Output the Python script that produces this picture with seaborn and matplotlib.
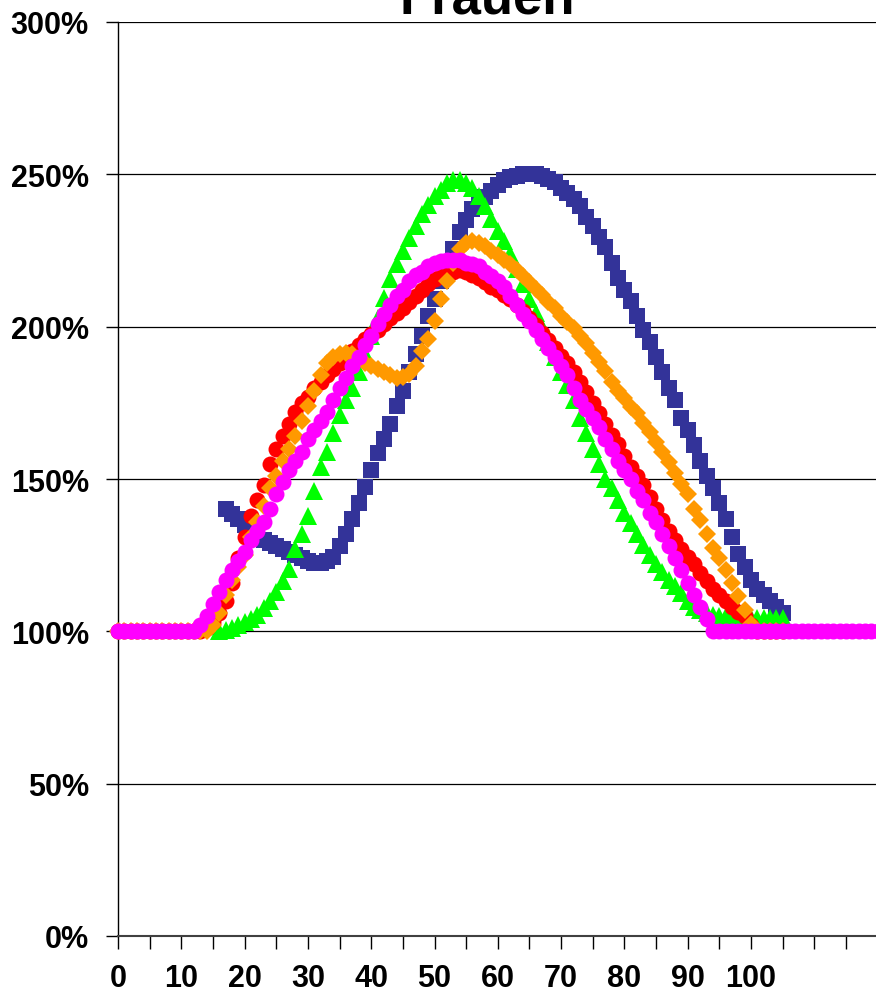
import matplotlib
matplotlib.use("Agg")
import matplotlib.pyplot as plt
import numpy as np
import pandas as pd
import seaborn as sns

# ---------------- data (percent values) ----------------
title = "Frauen"

ages_navy = list(range(17, 106))
navy = [140, 138.5, 137, 135, 133, 131.5, 130, 129, 128, 127, 126, 125, 124, 123,
        122.5, 122.5, 123, 124.5, 128, 132, 137, 142, 147.5, 153, 158.5, 163, 168,
        174, 179, 185, 191, 197, 203.5, 209, 215, 220, 225.5, 231, 235, 238.5, 240.5,
        242.5, 244.5, 246.5, 248, 249, 249.5, 250, 250, 250, 249.5, 248.5, 247.5,
        245.5, 244, 242, 239.5, 236, 233, 229.5, 226, 221, 216, 212, 208.5, 203.5,
        199, 195, 190, 185, 180, 176, 170, 166, 161, 156, 151, 147, 142, 137, 131,
        125.5, 121, 117, 114, 112, 110, 108, 106]

ages_green = list(range(16, 106))
green = [100, 100.5, 101, 102, 103, 104, 105.5, 107.5, 110, 113, 116.5, 120.5, 127,
         132, 138, 146, 154, 159, 165, 171, 176, 180, 185, 191, 197, 203, 209.5,
         215.5, 220.5, 225, 229, 233, 237, 240, 243, 245, 247, 248, 248, 247, 245.5,
         243, 239.5, 235.5, 231.5, 228, 224, 219, 214, 209, 204.5, 200, 195, 190,
         185, 181, 176, 170, 165, 160, 155, 150, 147, 143, 139, 135.5, 132, 128.5,
         125, 122, 119.5, 117, 115, 112.5, 110, 108, 107, 106, 105.5, 105, 105, 105,
         105, 105, 104.5, 104.5, 104.5, 104.5, 104.5, 104.5]

ages_red = list(range(0, 106))
red = [100] * 14 + [101, 103, 106, 110, 116, 124, 131, 138, 143, 148, 155, 160, 164,
       168, 172, 175, 177, 180, 182, 184, 186, 188, 190, 192, 194, 196, 197.5, 199,
       201, 203, 204.5, 206, 208, 210, 212, 214, 215.5, 216.5, 217, 218, 218.5, 218,
       217, 216, 214.5, 213, 212, 210.5, 209, 207, 205, 203, 200.5, 198, 195.5, 193,
       190.5, 188, 185, 182, 178.5, 175, 171.5, 168, 164.5, 161.5, 157.5, 154, 151,
       148, 144, 140, 136.5, 133, 130, 127, 124.5, 122, 119, 116.5, 114, 112, 110,
       108, 106.5, 105, 102] + [100] * 5

ages_orange = list(range(0, 106))
orange = [100] * 15 + [102, 106, 112, 117, 121, 125, 131, 136, 141, 147, 151, 156,
          160, 164, 169, 174, 179, 184, 188, 190, 191, 191.5, 191, 189.5, 188, 187,
          186, 185, 184, 183, 183.5, 184.5, 187, 192, 196, 202, 209, 215, 221, 225.5,
          227.5, 228, 227.5, 226.5, 225, 223.5, 222, 220.5, 218.5, 216.5, 214.5,
          212.5, 210.5, 208, 206, 203.5, 201.5, 199.5, 197, 194.5, 191.5, 188.5,
          185.5, 182, 179, 176.5, 173.5, 171.5, 168.5, 165.5, 162, 159, 155.5, 152,
          148.5, 145, 140, 136.5, 132, 127.5, 124, 120, 116, 111.5, 107, 102.5] + [100] * 5

ages_magenta = list(range(0, 121))
magenta = [100] * 13 + [102, 105, 109, 113, 117, 120, 123, 126, 130, 133, 136, 140,
           145, 149, 153, 156, 159, 163, 166, 169, 172, 176, 180, 183, 187, 190, 194,
           197, 201, 204, 207, 210, 212, 215, 217, 218, 220, 221, 221.5, 222, 222, 222,
           221, 220.5, 220, 218, 216.5, 215, 213, 210, 207, 204, 202, 199, 196, 193,
           190, 187, 184, 180, 176, 173, 170, 167, 163, 160, 156, 153, 150, 146, 143,
           139, 136, 132, 128, 124, 120, 116, 112, 108, 104] + [100] * 27

y_ticks = [0, 50, 100, 150, 200, 250, 300]
x_label_ticks = [0, 10, 20, 30, 40, 50, 60, 70, 80, 90, 100]

series = [
    ("navy", ages_navy, navy, "#333399", "s", 12.0),
    ("green", ages_green, green, "#00FF00", "^", 12.5),
    ("red", ages_red, red, "#FF0000", "o", 11.5),
    ("orange", ages_orange, orange, "#FF9900", "D", 9.0),
    ("magenta", ages_magenta, magenta, "#FF00FF", "o", 11.5),
]

# ---------------- figure ----------------
sns.set_style("white")
plt.rcParams["font.family"] = ["Liberation Sans", "DejaVu Sans"]
plt.rcParams["font.weight"] = "bold"
plt.rcParams["text.color"] = "black"
plt.rcParams["xtick.color"] = "black"
plt.rcParams["ytick.color"] = "black"

W, H = 876, 995
fig = plt.figure(figsize=(W / 100, H / 100), dpi=100)
ax = fig.add_axes([118 / W, (H - 937) / H, 1 - 118 / W, (937 - 23) / H])

for name, xs, ys, col, mk, ms in series:
    df = pd.DataFrame({"age": xs, "value": ys})
    sns.lineplot(data=df, x="age", y="value", ax=ax, color=col, linestyle="",
                 marker=mk, markersize=ms, markeredgewidth=0, markerfacecolor=col,
                 clip_on=False, zorder=3, legend=False, estimator=None, sort=False)

ax.set_xlim(0, (W - 118) / 6.33)
ax.set_ylim(0, 300)

# y axis
ax.set_yticks(y_ticks)
ax.set_yticklabels([f"{v}%" for v in y_ticks])
ax.yaxis.grid(True, color="black", linewidth=0.9)
ax.set_axisbelow(True)

# x axis: ticks every 5, labels every 10 up to 100
xt = list(range(0, 120, 5))
ax.set_xticks(xt)
ax.set_xticklabels([str(v) if v in x_label_ticks else "" for v in xt])

ax.tick_params(axis="both", which="major", direction="out", length=9, width=1,
               color="black", labelcolor="black", labelsize=22)
ax.tick_params(axis="x", pad=10.5, bottom=True)
ax.tick_params(axis="y", pad=12, left=True)
for lab in ax.get_xticklabels() + ax.get_yticklabels():
    lab.set_fontweight("bold")

for side in ["top", "right"]:
    ax.spines[side].set_visible(False)
ax.spines["left"].set_color("black")
ax.spines["bottom"].set_color("#404040")
ax.spines["left"].set_linewidth(1)
ax.spines["bottom"].set_linewidth(1.5)

ax.set_xlabel("")
ax.set_ylabel("")

fig.text(487 / W, 1 - 13 / H, title, ha="center", va="baseline",
         fontsize=38, fontweight="bold", color="black")

fig.savefig("out.png", dpi=100)
